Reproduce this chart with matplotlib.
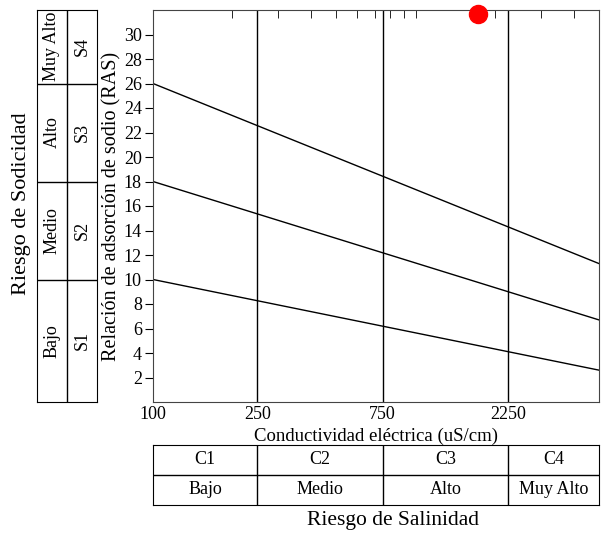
import numpy as np
import matplotlib
matplotlib.use('Agg')
from matplotlib import pyplot as plt
from matplotlib.ticker import LogLocator, NullFormatter, FixedLocator

plt.rcParams['font.family'] = ['Liberation Serif', 'DejaVu Serif']
plt.rcParams['font.size'] = 12

# conductivity (uS/cm) class breaks and labels
ce_breaks = [100, 250, 750, 2250, 5000]
ce_codes = ['C1', 'C2', 'C3', 'C4']
ce_names = ['Bajo', 'Medio', 'Alto', 'Muy Alto']

# sodicity class breaks (SAR at left edge) and labels
sar_breaks = [0, 10, 18, 26, 32]
sar_codes = ['S1', 'S2', 'S3', 'S4']
sar_names = ['Bajo', 'Medio', 'Alto', 'Muy Alto']

# dividing lines: SAR at CE=100 and at CE=5000
line_sar_left = [10, 18, 26]
line_sar_right = [2.6, 6.7, 11.3]

# sample
sample_ce = [1725]
sample_sar = [31.7]

W, H = 604, 539
fig = plt.figure(figsize=(W / 100, H / 100), dpi=100)

def box(x0, y0, x1, y1):
    return [x0 / W, 1 - y1 / H, (x1 - x0) / W, (y1 - y0) / H]

ax = fig.add_axes(box(153, 10, 599, 402))
ax.set_xscale('log')
ax.set_xlim(ce_breaks[0], ce_breaks[-1])
ax.set_ylim(sar_breaks[0], sar_breaks[-1])

for x in ce_breaks[1:-1]:
    ax.axvline(x, color='black', lw=1)
for yl, yr in zip(line_sar_left, line_sar_right):
    ax.plot([ce_breaks[0], ce_breaks[-1]], [yl, yr], color='black', lw=1)

ax.plot(sample_ce, sample_sar, 'o', color='red', ms=13, clip_on=False, zorder=5)

ax.xaxis.set_major_locator(FixedLocator(ce_breaks[:-1]))
ax.set_xticklabels([str(v) for v in ce_breaks[:-1]])
ax.xaxis.set_minor_locator(LogLocator(base=10, subs=np.arange(1, 10)))
ax.xaxis.set_minor_formatter(NullFormatter())
ax.tick_params(axis='x', which='major', bottom=True, top=False, length=0, labelsize=13, pad=3)
ax.tick_params(axis='x', which='minor', bottom=False, top=True, direction='in', length=6, color='black')
ax.set_yticks(np.arange(2, 31, 2))
ax.tick_params(axis='y', which='major', direction='out', length=6, labelsize=13, pad=2, right=False)
ax.set_xlabel('Conductividad eléctrica (uS/cm)', fontsize=13.5, labelpad=3)
ax.set_ylabel('Relación de adsorción de sodio (RAS)', fontsize=14.5, labelpad=2)
for s in ax.spines.values():
    s.set_color('#444444')

# left table (sodicity)
axl = fig.add_axes(box(37, 10, 97, 402))
axl.set_xlim(0, 2)
axl.set_ylim(sar_breaks[0], sar_breaks[-1])
axl.set_xticks([])
axl.set_yticks([])
axl.axvline(1, color='black', lw=1)
for y in sar_breaks[1:-1]:
    axl.axhline(y, color='black', lw=1)
for i in range(4):
    yc = (sar_breaks[i] + sar_breaks[i + 1]) / 2
    axl.text(0.5, yc, sar_names[i], rotation=90, ha='center', va='center', fontsize=13)
    axl.text(1.5, yc, sar_codes[i], rotation=90, ha='center', va='center', fontsize=13)

# bottom table (salinity)
axb = fig.add_axes(box(153, 445, 599, 505))
axb.set_xscale('log')
axb.set_xlim(ce_breaks[0], ce_breaks[-1])
axb.set_ylim(0, 2)
axb.set_xticks([], minor=False)
axb.set_xticks([], minor=True)
axb.set_yticks([])
axb.axhline(1, color='black', lw=1)
for x in ce_breaks[1:-1]:
    axb.axvline(x, color='black', lw=1)
for i in range(4):
    xc = np.sqrt(ce_breaks[i] * ce_breaks[i + 1])
    axb.text(xc, 1.5, ce_codes[i], ha='center', va='center', fontsize=13)
    axb.text(xc, 0.5, ce_names[i], ha='center', va='center', fontsize=13)

fig.text(22 / W, 1 - 204 / H, 'Riesgo de Sodicidad', rotation=90, ha='center', va='center', fontsize=16)
fig.text(393 / W, 1 - 521 / H, 'Riesgo de Salinidad', ha='center', va='center', fontsize=15.5)

fig.savefig('out.png', dpi=100)
